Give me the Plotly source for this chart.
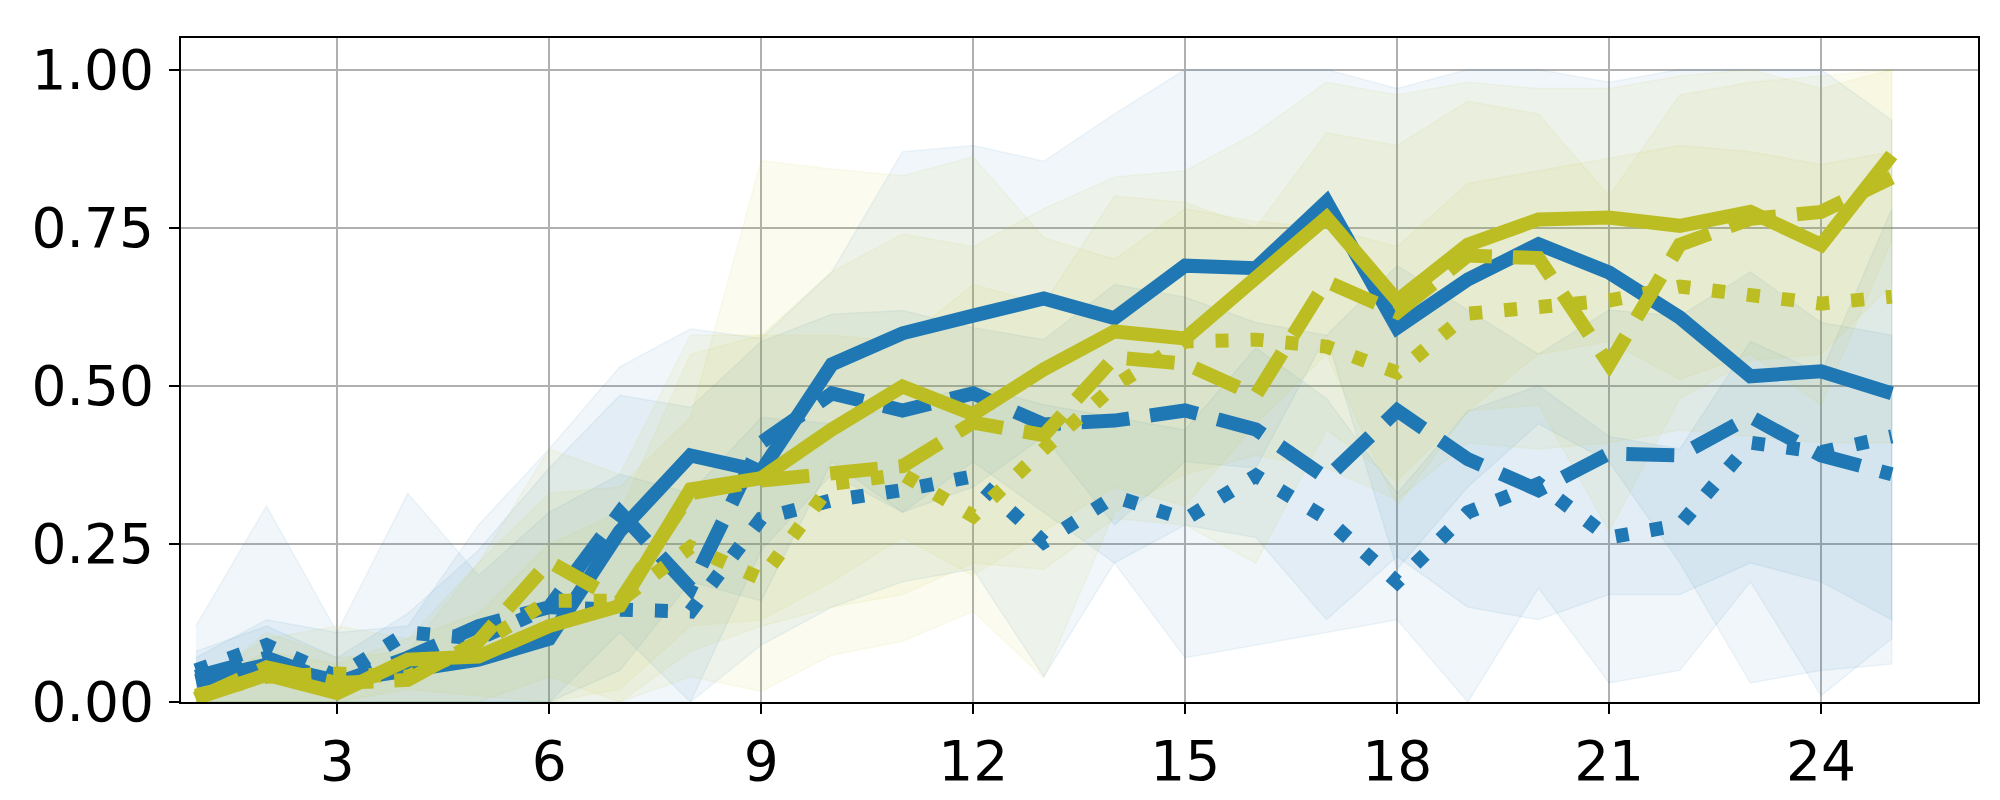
import plotly.graph_objects as go

x = list(range(1, 26))

# mean curves
blue_solid = [0.033, 0.059, 0.033, 0.05, 0.067, 0.10, 0.27, 0.39, 0.365, 0.534, 0.583, 0.611, 0.638,
              0.607, 0.690, 0.686, 0.791, 0.592, 0.668, 0.724, 0.679, 0.608, 0.515, 0.523, 0.488]
blue_dash = [0.04, 0.07, 0.03, 0.07, 0.12, 0.15, 0.30, 0.18, 0.41, 0.488, 0.461, 0.488, 0.439,
             0.445, 0.461, 0.431, 0.354, 0.461, 0.384, 0.335, 0.393, 0.39, 0.451, 0.39, 0.36]
blue_dot = [0.05, 0.09, 0.04, 0.11, 0.10, 0.15, 0.146, 0.143, 0.29, 0.319, 0.335, 0.357, 0.253,
            0.325, 0.289, 0.358, 0.29, 0.19, 0.30, 0.345, 0.26, 0.28, 0.41, 0.395, 0.42]
olive_solid = [0.006, 0.043, 0.014, 0.067, 0.072, 0.12, 0.152, 0.336, 0.354, 0.431, 0.499, 0.455, 0.526,
               0.586, 0.575, 0.668, 0.766, 0.635, 0.723, 0.763, 0.766, 0.753, 0.775, 0.723, 0.865]
olive_dash = [0.005, 0.055, 0.03, 0.035, 0.096, 0.222, 0.159, 0.33, 0.35, 0.362, 0.373, 0.442, 0.422,
              0.545, 0.535, 0.485, 0.665, 0.616, 0.706, 0.702, 0.534, 0.723, 0.764, 0.775, 0.829]
olive_dot = [0.01, 0.04, 0.045, 0.04, 0.09, 0.16, 0.16, 0.245, 0.195, 0.345, 0.36, 0.294, 0.40,
             0.50, 0.57, 0.573, 0.562, 0.521, 0.614, 0.622, 0.635, 0.657, 0.646, 0.630, 0.641]

# shaded bands (upper / lower)
blue_solid_hi = [0.07, 0.13, 0.11, 0.12, 0.28, 0.40, 0.53, 0.59, 0.575, 0.68, 0.87, 0.88, 0.855,
                 0.93, 1.0, 1.0, 1.0, 0.97, 1.0, 1.0, 0.98, 1.0, 1.0, 1.0, 0.92]
blue_solid_lo = [0.0, 0.0, 0.0, 0.0, 0.0, 0.0, 0.05, 0.19, 0.16, 0.38, 0.30, 0.34, 0.42,
                 0.28, 0.38, 0.37, 0.58, 0.21, 0.34, 0.44, 0.38, 0.22, 0.03, 0.05, 0.06]
blue_dash_hi = [0.08, 0.12, 0.07, 0.14, 0.24, 0.37, 0.485, 0.466, 0.57, 0.613, 0.619, 0.592, 0.573,
                0.66, 0.64, 0.60, 0.58, 0.69, 0.62, 0.55, 0.62, 0.61, 0.68, 0.60, 0.58]
blue_dash_lo = [0.0, 0.0, 0.0, 0.0, 0.0, 0.0, 0.11, 0.0, 0.24, 0.36, 0.30, 0.38, 0.30,
                0.22, 0.28, 0.26, 0.13, 0.23, 0.15, 0.13, 0.17, 0.17, 0.22, 0.19, 0.13]
blue_dot_hi = [0.12, 0.31, 0.11, 0.33, 0.20, 0.30, 0.36, 0.33, 0.45, 0.44, 0.47, 0.50, 0.47,
               0.45, 0.43, 0.56, 0.48, 0.33, 0.46, 0.50, 0.42, 0.40, 0.57, 0.52, 0.78]
blue_dot_lo = [0.0, 0.0, 0.0, 0.0, 0.0, 0.0, 0.0, 0.0, 0.09, 0.15, 0.19, 0.21, 0.04,
               0.22, 0.07, 0.09, 0.11, 0.13, 0.0, 0.18, 0.03, 0.05, 0.19, 0.01, 0.10]
olive_solid_hi = [0.02, 0.08, 0.06, 0.10, 0.14, 0.25, 0.30, 0.55, 0.58, 0.68, 0.74, 0.72, 0.78,
                  0.83, 0.84, 0.90, 0.98, 0.96, 0.98, 0.97, 0.97, 0.99, 1.0, 0.97, 1.0]
olive_solid_lo = [0.0, 0.0, 0.0, 0.02, 0.01, 0.0, 0.02, 0.12, 0.13, 0.19, 0.26, 0.20, 0.27,
                  0.34, 0.31, 0.44, 0.55, 0.31, 0.46, 0.55, 0.57, 0.51, 0.55, 0.47, 0.73]
olive_dash_hi = [0.02, 0.11, 0.07, 0.08, 0.22, 0.40, 0.36, 0.58, 0.58, 0.58, 0.57, 0.66, 0.63,
                 0.80, 0.79, 0.75, 0.90, 0.88, 0.95, 0.93, 0.80, 0.96, 0.98, 0.99, 1.0]
olive_dash_lo = [0.0, 0.0, 0.0, 0.0, 0.0, 0.04, 0.0, 0.08, 0.12, 0.15, 0.17, 0.22, 0.21,
                 0.29, 0.28, 0.22, 0.43, 0.35, 0.46, 0.47, 0.27, 0.48, 0.54, 0.55, 0.66]
olive_dot_hi = [0.03, 0.10, 0.12, 0.10, 0.22, 0.33, 0.34, 0.45, 0.856, 0.843, 0.832, 0.862, 0.734,
                0.70, 0.78, 0.76, 0.75, 0.72, 0.82, 0.84, 0.86, 0.88, 0.87, 0.85, 0.87]
olive_dot_lo = [0.0, 0.0, 0.0, 0.0, 0.0, 0.0, 0.0, 0.04, 0.017, 0.074, 0.096, 0.143, 0.038,
                0.30, 0.36, 0.39, 0.37, 0.32, 0.41, 0.40, 0.41, 0.43, 0.42, 0.41, 0.41]

x_ticks = [3, 6, 9, 12, 15, 18, 21, 24]
y_ticks = [0.0, 0.25, 0.5, 0.75, 1.0]

BLUE = "#1f77b4"
OLIVE = "#bcbd22"
BLUE_FILL = "rgba(31,119,180,0.065)"
OLIVE_FILL = "rgba(188,189,34,0.065)"

series = [
    (blue_solid, blue_solid_hi, blue_solid_lo, BLUE, BLUE_FILL, "solid"),
    (blue_dash, blue_dash_hi, blue_dash_lo, BLUE, BLUE_FILL, "48px,21px"),
    (blue_dot, blue_dot_hi, blue_dot_lo, BLUE, BLUE_FILL, "13px,22px"),
    (olive_solid, olive_solid_hi, olive_solid_lo, OLIVE, OLIVE_FILL, "solid"),
    (olive_dash, olive_dash_hi, olive_dash_lo, OLIVE, OLIVE_FILL, "48px,21px"),
    (olive_dot, olive_dot_hi, olive_dot_lo, OLIVE, OLIVE_FILL, "13px,22px"),
]

fig = go.Figure()
for mean, hi, lo, col, fcol, dash in series:
    fig.add_trace(go.Scatter(
        x=x + x[::-1], y=hi + lo[::-1], mode="lines", fill="toself",
        fillcolor=fcol, line=dict(color=fcol, width=1.5), hoverinfo="skip", showlegend=False))
for mean, hi, lo, col, fcol, dash in series:
    fig.add_trace(go.Scatter(
        x=x, y=mean, mode="lines", line=dict(color=col, width=14, dash=dash),
        showlegend=False))

axis_common = dict(
    showline=True, linecolor="black", linewidth=2.2, mirror=True,
    ticks="outside", ticklen=10, tickwidth=2.2, tickcolor="black",
    showgrid=True, gridcolor="#b0b0b0", gridwidth=2,
    zeroline=False,
    tickfont=dict(family="DejaVu Sans", size=55, color="black"),
)
fig.update_xaxes(range=[0.79, 26.22], tickvals=x_ticks, ticktext=[str(v) for v in x_ticks],
                 **axis_common)
fig.update_yaxes(range=[0, 1.05], tickvals=y_ticks, ticktext=[f"{v:.2f}" for v in y_ticks],
                 ticklabelstandoff=4, **axis_common)
fig.update_layout(
    width=2000, height=800,
    margin=dict(l=173, r=30, t=30, b=106),
    paper_bgcolor="white", plot_bgcolor="white",
    showlegend=False,
)
fig.write_html("out.html")
